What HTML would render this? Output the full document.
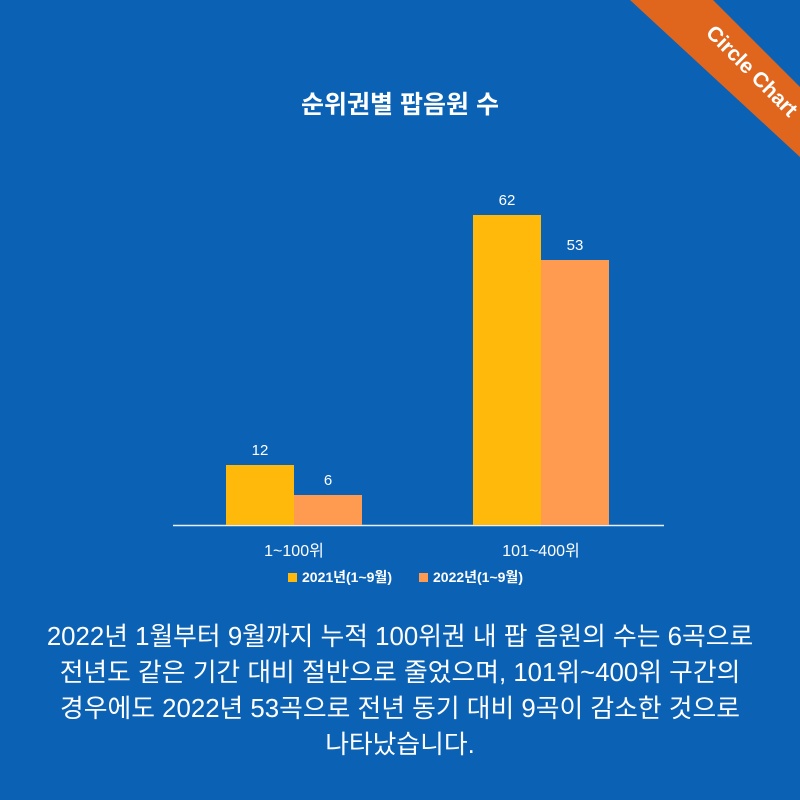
<!DOCTYPE html>
<html><head><meta charset="utf-8"><style>
body{margin:0;width:800px;height:800px;background:#0b62b5;overflow:hidden;position:relative;font-family:"Liberation Sans","Noto Sans CJK KR",sans-serif;color:#fff}
.t{position:absolute;white-space:nowrap}
.b{position:absolute}
</style></head><body>
<svg class="b" style="left:0;top:0" width="800" height="800">
<polygon points="630,0 713,0 800,87 800,157" fill="#e0661e"/>
<text x="747" y="76" transform="rotate(45 747 76)" text-anchor="middle" font-family="Liberation Sans,sans-serif" font-weight="bold" font-size="21" fill="#fff">Circle Chart</text>
<line x1="173" y1="525.5" x2="664" y2="525.5" stroke="#e8eef6" stroke-width="1.5"/>
<rect x="226" y="465" width="68" height="60" fill="#ffb90a"/>
<rect x="294" y="495" width="68" height="30" fill="#ff9b50"/>
<rect x="473" y="215" width="68" height="310" fill="#ffb90a"/>
<rect x="541" y="260" width="68" height="265" fill="#ff9b50"/>
<rect x="288" y="573" width="9" height="9" fill="#ffb90a"/>
<rect x="419" y="573" width="9" height="9" fill="#ff9b50"/>
</svg>
<div class="t" style="left:0;width:800px;text-align:center;top:85px;font-size:25px;font-weight:bold">순위권별 팝음원 수</div>
<div class="t" style="left:226px;width:68px;text-align:center;top:442px;font-size:15px">12</div>
<div class="t" style="left:294px;width:68px;text-align:center;top:472px;font-size:15px">6</div>
<div class="t" style="left:473px;width:68px;text-align:center;top:192px;font-size:15px">62</div>
<div class="t" style="left:541px;width:68px;text-align:center;top:237px;font-size:15px">53</div>
<div class="t" style="left:234px;width:120px;text-align:center;top:537px;font-size:16px">1~100위</div>
<div class="t" style="left:481px;width:120px;text-align:center;top:537px;font-size:16px">101~400위</div>
<div class="t" style="left:302px;top:567px;font-size:14px;font-weight:bold">2021년(1~9월)</div>
<div class="t" style="left:433px;top:567px;font-size:14px;font-weight:bold">2022년(1~9월)</div>
<div class="t" style="left:0;width:800px;text-align:center;top:619px;font-size:25.8px;line-height:36px">2022년 1월부터 9월까지 누적 100위권 내 팝 음원의 수는 6곡으로<br>전년도 같은 기간 대비 절반으로 줄었으며, 101위~400위 구간의<br>경우에도 2022년 53곡으로 전년 동기 대비 9곡이 감소한 것으로<br>나타났습니다.</div>
</body></html>
